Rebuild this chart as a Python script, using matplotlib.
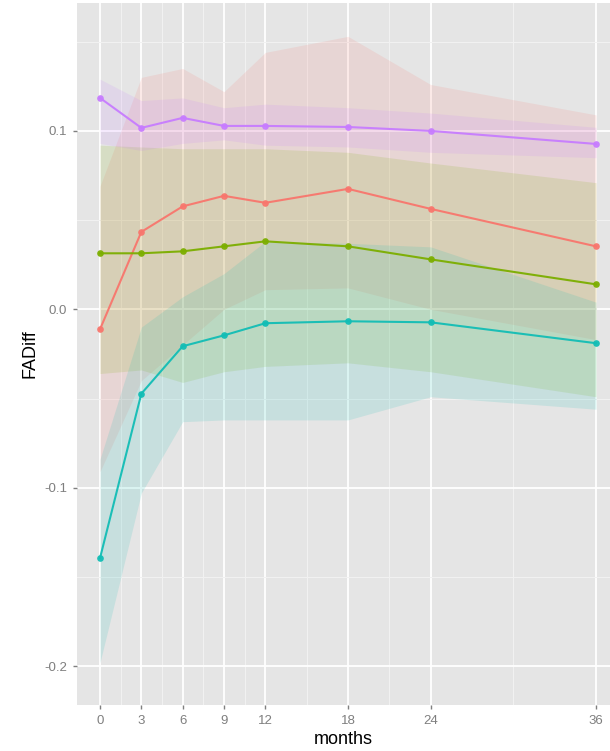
import numpy as np
import matplotlib
matplotlib.use("Agg")
import matplotlib.pyplot as plt

plt.rcParams["font.family"] = ["Liberation Sans", "DejaVu Sans"]

# follow-up times (months)
months = [0, 3, 6, 9, 12, 18, 24, 36]

# group means and band limits, one set per group
red_mean = [-0.0112, 0.0434, 0.0577, 0.0636, 0.0597, 0.0675, 0.0563, 0.0353]
red_lo = [-0.091, -0.040, -0.020, 0.000, 0.011, 0.012, 0.000, -0.017]
red_hi = [0.069, 0.130, 0.135, 0.122, 0.144, 0.153, 0.126, 0.109]

green_mean = [0.0314, 0.0314, 0.0325, 0.0353, 0.0381, 0.0353, 0.0280, 0.0140]
green_lo = [-0.036, -0.034, -0.041, -0.035, -0.032, -0.030, -0.035, -0.049]
green_hi = [0.092, 0.091, 0.090, 0.090, 0.090, 0.088, 0.082, 0.071]

cyan_mean = [-0.1395, -0.0473, -0.0207, -0.0146, -0.0078, -0.0067, -0.0073, -0.0190]
cyan_lo = [-0.198, -0.103, -0.063, -0.062, -0.062, -0.062, -0.049, -0.056]
cyan_hi = [-0.084, -0.010, 0.007, 0.020, 0.038, 0.037, 0.035, 0.004]

purple_mean = [0.1185, 0.1017, 0.1073, 0.1028, 0.1028, 0.1022, 0.1000, 0.0927]
purple_lo = [0.093, 0.089, 0.093, 0.095, 0.092, 0.091, 0.088, 0.085]
purple_hi = [0.129, 0.117, 0.1185, 0.113, 0.115, 0.113, 0.110, 0.102]

yticks = [-0.2, -0.1, 0.0, 0.1]
ytick_labels = ["-0.2", "-0.1", "0.0", "0.1"]

groups = [
    ("#F8766D", red_mean, red_lo, red_hi),
    ("#7CAE00", green_mean, green_lo, green_hi),
    ("#12BDB5", cyan_mean, cyan_lo, cyan_hi),
    ("#C77CFF", purple_mean, purple_lo, purple_hi),
]

fig = plt.figure(figsize=(6.10, 7.51), dpi=100)
ax = fig.add_axes([77 / 610, 1 - 705 / 751, 1 - 77 / 610, (705 - 3) / 751])
ax.set_facecolor("#E5E5E5")

# grey panel with white major and faint minor grid
for s in ax.spines.values():
    s.set_visible(False)
ax.set_xticks(months)
ax.set_xticks([1.5, 4.5, 7.5, 10.5, 15, 21, 30], minor=True)
ax.set_yticks(yticks)
ax.set_yticklabels(ytick_labels)
ax.set_yticks([-0.15, -0.05, 0.05, 0.15], minor=True)
ax.grid(which="major", color="white", linewidth=1.3)
ax.grid(which="minor", color="#F2F2F2", linewidth=0.7)
ax.set_axisbelow(True)
ax.tick_params(which="major", length=3, width=1, color="#7F7F7F",
               labelcolor="#7F7F7F", labelsize=9.5, pad=4)
ax.tick_params(which="minor", length=0)

# bands first, then lines and points on top
for col, m, lo, hi in groups:
    ax.fill_between(months, lo, hi, color=col, alpha=0.14, linewidth=0)
for col, m, lo, hi in groups:
    ax.plot(months, m, color=col, linewidth=1.5, marker="o", markersize=4.8,
            markeredgewidth=0, alpha=0.95)

ax.set_xlim(-1.669, 37.016)
ax.set_ylim(-0.2218, 0.1717)

ax.set_xlabel("months", fontsize=13, labelpad=3)
ax.set_ylabel("FADiff", fontsize=13, labelpad=4)

fig.savefig("out.png", dpi=100)
